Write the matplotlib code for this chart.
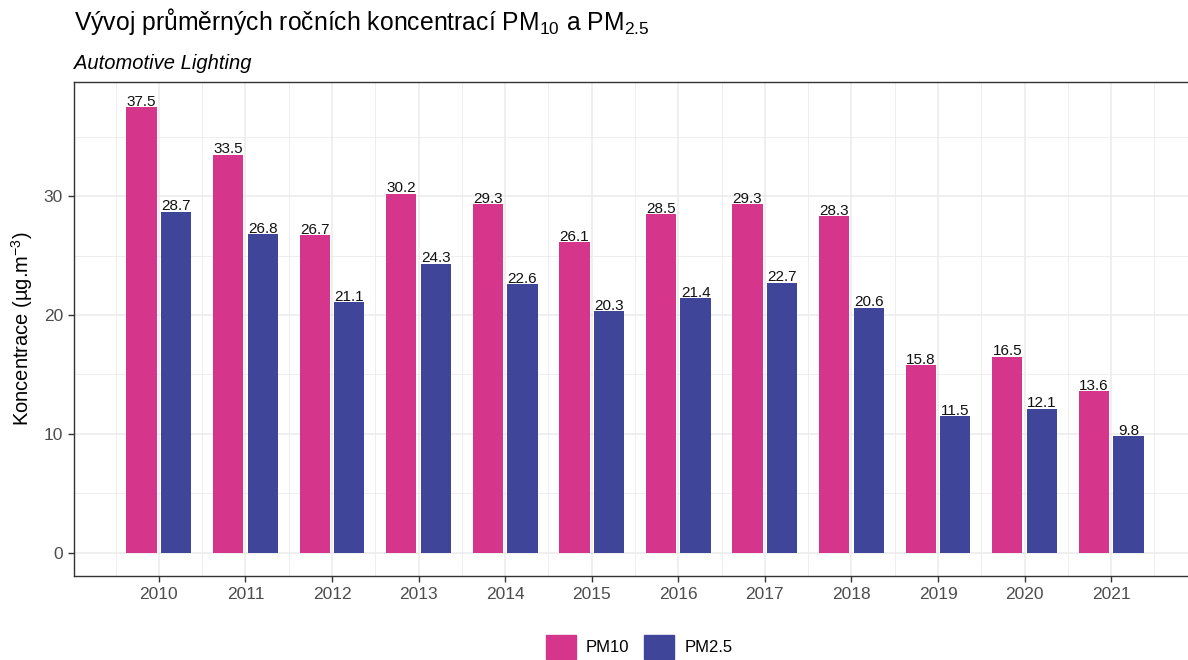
import numpy as np
import matplotlib.pyplot as plt
from matplotlib.patches import Patch

# Data
years = [2010, 2011, 2012, 2013, 2014, 2015, 2016, 2017, 2018, 2019, 2020, 2021]
pm10 = [37.5, 33.5, 26.7, 30.2, 29.3, 26.1, 28.5, 29.3, 28.3, 15.8, 16.5, 13.6]
pm25 = [28.7, 26.8, 21.1, 24.3, 22.6, 20.3, 21.4, 22.7, 20.6, 11.5, 12.1, 9.8]

col_pm10 = '#D5358A'
col_pm25 = '#3F4699'

plt.rcParams['font.family'] = ['Liberation Sans', 'DejaVu Sans']
plt.rcParams['mathtext.fontset'] = 'custom'
plt.rcParams['mathtext.rm'] = 'Liberation Sans'
plt.rcParams['mathtext.it'] = 'Liberation Sans:italic'

fig = plt.figure(figsize=(11.88, 6.6), dpi=100)
ax = fig.add_axes([74 / 1188, 84 / 660, 1122 / 1188, 494 / 660])

x = np.array(years)
w = 0.35
ax.bar(x - 0.2, pm10, width=w, color=col_pm10, zorder=2)
ax.bar(x + 0.2, pm25, width=w, color=col_pm25, zorder=2)

# value labels
for xi, v in zip(x, pm10):
    ax.annotate(f'{v:.1f}', (xi - 0.2, v), xytext=(0, 1), textcoords='offset points',
                ha='center', va='baseline', fontsize=11, color='#111111', zorder=3)
for xi, v in zip(x, pm25):
    ax.annotate(f'{v:.1f}', (xi + 0.2, v), xytext=(0, 1), textcoords='offset points',
                ha='center', va='baseline', fontsize=11, color='#111111', zorder=3)

ax.set_xlim(2009.02, 2021.98)
ax.set_ylim(-1.96, 39.6)
ax.set_xticks(years)
ax.set_xticks(np.arange(2009.5, 2022, 1), minor=True)
ax.set_yticks([0, 10, 20, 30])
ax.set_yticks([5, 15, 25, 35], minor=True)

ax.grid(which='major', color='#EBEBEB', linewidth=1.1, zorder=0)
ax.grid(which='minor', color='#EBEBEB', linewidth=0.6, zorder=0)
ax.set_axisbelow(True)

for s in ax.spines.values():
    s.set_color('#333333')
    s.set_linewidth(1.0)

ax.tick_params(which='major', length=4, width=1, color='#333333', labelcolor='#4D4D4D',
               labelsize=12.5, pad=4)
ax.tick_params(which='minor', length=0)

ax.set_ylabel('Koncentrace (µg.m$^{-3}$)', fontsize=14.5, color='black', labelpad=6)

fig.text(74 / 1188, 1 - 30 / 660, 'Vývoj průměrných ročních koncentrací PM$_{10}$ a PM$_{2.5}$',
         fontsize=17.8, ha='left', va='baseline')
fig.text(74 / 1188, 1 - 69 / 660, 'Automotive Lighting', fontsize=14.5, style='italic',
         ha='left', va='baseline')

handles = [Patch(color=col_pm10, label='PM10'), Patch(color=col_pm25, label='PM2.5')]
fig.legend(handles=handles, loc='center', bbox_to_anchor=(639 / 1188, 13 / 660), ncol=2,
           frameon=False, fontsize=12, handlelength=1.8, handleheight=1.8,
           handletextpad=0.6, columnspacing=0.9)

fig.savefig('out.png', dpi=100)
